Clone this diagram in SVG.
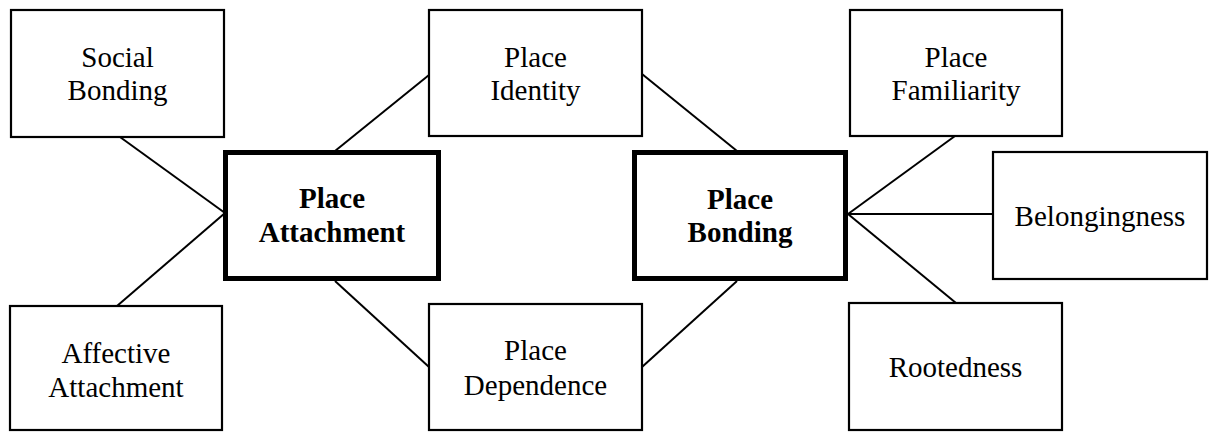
<svg xmlns="http://www.w3.org/2000/svg" width="1209" height="432" viewBox="0 0 1209 432">
<style>
.box{fill:#fff;stroke:#000;stroke-width:2.2}
.main{fill:#fff;stroke:#000;stroke-width:5}
.t{font-family:"Liberation Serif","Times New Roman",serif;font-size:29px;text-anchor:middle;fill:#000}
.b{font-weight:bold}
.c{stroke:#000;stroke-width:2;fill:none}
</style>
<rect width="1209" height="432" fill="#fff"/>
<g id="connectors">
<line class="c" x1="120" y1="137" x2="225" y2="213"/>
<line class="c" x1="117" y1="306" x2="225" y2="213"/>
<line class="c" x1="335" y1="151" x2="429" y2="75"/>
<line class="c" x1="335" y1="281" x2="429" y2="367"/>
<line class="c" x1="642" y1="74" x2="737" y2="151"/>
<line class="c" x1="642" y1="367" x2="737" y2="281"/>
<line class="c" x1="955" y1="136" x2="848" y2="214"/>
<line class="c" x1="848" y1="214" x2="993" y2="214"/>
<line class="c" x1="848" y1="214" x2="956" y2="303"/>
</g>
<g id="social-bonding">
<rect class="box" x="11" y="10" width="213" height="127"/>
<text class="t" x="117.5" y="67">Social</text>
<text class="t" x="117.5" y="100">Bonding</text>
</g>
<g id="affective-attachment">
<rect class="box" x="10" y="306" width="212" height="124"/>
<text class="t" x="116" y="363">Affective</text>
<text class="t" x="116" y="397">Attachment</text>
</g>
<g id="place-attachment">
<rect class="main" x="225.5" y="152.5" width="213" height="126"/>
<text class="t b" x="332" y="208">Place</text>
<text class="t b" x="332" y="242">Attachment</text>
</g>
<g id="place-identity">
<rect class="box" x="429" y="10" width="213" height="126"/>
<text class="t" x="535.5" y="67">Place</text>
<text class="t" x="535.5" y="100">Identity</text>
</g>
<g id="place-dependence">
<rect class="box" x="429" y="304" width="213" height="126"/>
<text class="t" x="535.5" y="360">Place</text>
<text class="t" x="535.5" y="395">Dependence</text>
</g>
<g id="place-bonding">
<rect class="main" x="634.5" y="152.5" width="211" height="126"/>
<text class="t b" x="740" y="209">Place</text>
<text class="t b" x="740" y="242">Bonding</text>
</g>
<g id="place-familiarity">
<rect class="box" x="850" y="10" width="212" height="126"/>
<text class="t" x="956" y="67">Place</text>
<text class="t" x="956" y="100">Familiarity</text>
</g>
<g id="belongingness">
<rect class="box" x="993" y="152" width="214" height="127"/>
<text class="t" x="1100" y="226">Belongingness</text>
</g>
<g id="rootedness">
<rect class="box" x="849" y="303" width="213" height="127"/>
<text class="t" x="955.5" y="377">Rootedness</text>
</g>
</svg>
